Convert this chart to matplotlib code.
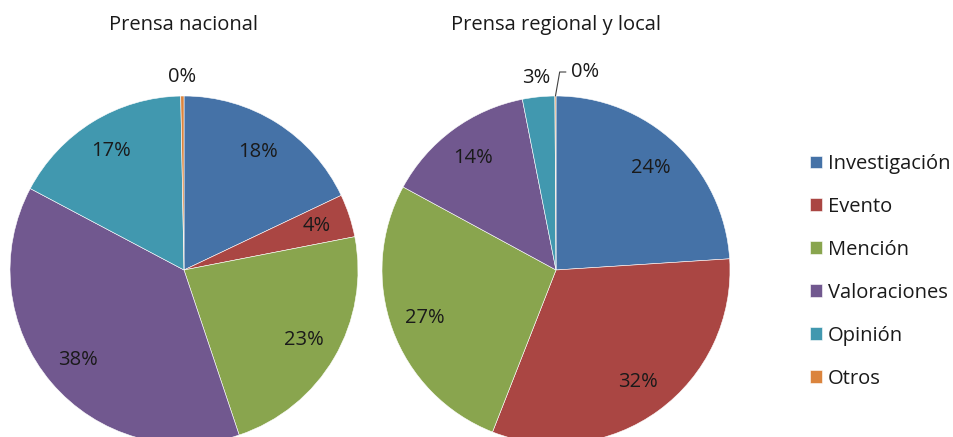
import numpy as np
import matplotlib
matplotlib.use("Agg")
import matplotlib.pyplot as plt

categories = ["Investigación", "Evento", "Mención", "Valoraciones", "Opinión", "Otros"]
nacional = [18, 4, 23, 38, 17, 0.3]
regional = [24, 32, 27, 14, 3, 0.1]
titles = ["Prensa nacional", "Prensa regional y local"]
colors = ["#4572A7", "#AA4643", "#89A54E", "#71588F", "#4198AF", "#DB843D"]

plt.rcParams['font.family'] = ['Open Sans', 'DejaVu Sans']
FS = 14.5
TC = '#1a1a1a'

W, H = 954, 437
fig = plt.figure(figsize=(W / 100, H / 100), dpi=100)
ax = fig.add_axes([0, 0, 1, 1])

centers = [(184, H - 270), (556, H - 270)]
radius = 174

all_wedges = []
all_auto = []
for vals, c, title in zip([nacional, regional], centers, titles):
    wedges, texts, autotexts = ax.pie(
        vals, colors=colors, startangle=90, counterclock=False,
        center=c, radius=radius, autopct='%.0f%%', pctdistance=0.8,
        wedgeprops=dict(linewidth=0.4, edgecolor='white'),
        textprops=dict(fontsize=FS, color=TC))
    all_wedges.append(wedges)
    all_auto.append(autotexts)
    ax.text(c[0], H - 25, title, ha='center', va='center', fontsize=FS, color=TC)
    total = sum(vals)
    for w, t, v in zip(wedges, autotexts, vals):
        if v / total < 0.035:
            ang = np.deg2rad((w.theta1 + w.theta2) / 2)
            t.set_position((c[0] + 1.11 * radius * np.cos(ang), c[1] + 1.11 * radius * np.sin(ang)))

# right pie "Otros" label with leader line
w = all_wedges[1][-1]
t = all_auto[1][-1]
ang = np.deg2rad((w.theta1 + w.theta2) / 2)
c = centers[1]
p0 = (c[0] + radius * np.cos(ang), c[1] + radius * np.sin(ang))
t.set_visible(False)
ax.annotate(t.get_text(), xy=p0, xytext=(p0[0] + 16, p0[1] + 24),
            fontsize=FS, color=TC, ha='left', va='center',
            arrowprops=dict(arrowstyle='-', color='#404040', lw=0.8,
                            connectionstyle='angle,angleA=0,angleB=80,rad=0',
                            shrinkA=2, shrinkB=0))

ax.legend(all_wedges[0], categories, loc='upper left', bbox_to_anchor=(810 / W, 1 - 154 / H),
          frameon=False, fontsize=FS, handlelength=0.6, handleheight=0.6,
          handletextpad=0.3, labelspacing=1.14, borderaxespad=0, borderpad=0,
          labelcolor=TC)

ax.set_xlim(0, W)
ax.set_ylim(0, H)
ax.set_aspect('equal')
ax.axis('off')
fig.savefig("out.png", dpi=100)
